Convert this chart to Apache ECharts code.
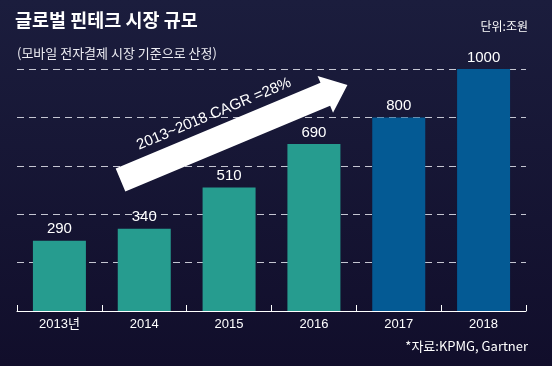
<!DOCTYPE html>
<html><head><meta charset="utf-8">
<script src="https://cdn.jsdelivr.net/npm/echarts@6/dist/echarts.min.js"></script>
<style>html,body{margin:0;padding:0;background:#15143a;}#c{width:552px;height:366px;}</style>
</head><body><div id="c"></div>
<script>
const categories = ['2013년','2014','2015','2016','2017','2018'];
const values = [290, 340, 510, 690, 800, 1000];
const barColors = ['#269c8f','#269c8f','#269c8f','#269c8f','#045a94','#045a94'];
const yTicks = [0, 200, 400, 600, 800, 1000];

const KR = '"Noto Sans CJK KR", sans-serif';
const NUM = '"Liberation Sans", "Noto Sans CJK KR", sans-serif';

// decorative arrow
const tail = [120.5, 180], ang = 22.7 * Math.PI / 180, L = 246, bw = 12.5, hw = 20, hl = 24;
const ux = Math.cos(ang), uy = -Math.sin(ang), px = Math.sin(ang), py = Math.cos(ang);
function P(d, w) { return [tail[0] + ux * d + px * w, tail[1] + uy * d + py * w]; }
const arrowPts = [P(0, -bw), P(L - hl, -bw), P(L - hl, -hw), P(L, 0), P(L - hl, hw), P(L - hl, bw), P(0, bw)];

const chart = echarts.init(document.getElementById('c'));
chart.setOption({
  backgroundColor: {type:'linear', x:0, y:0, x2:0, y2:1, colorStops:[{offset:0,color:'#1b1d3d'},{offset:1,color:'#110e2b'}]},
  animation: false,
  grid: {left: 17, right: 26, top: 69, bottom: 55},
  xAxis: {
    type: 'category', data: categories,
    axisLine: {lineStyle: {color: '#ffffff', width: 1}},
    axisTick: {show: true, inside: true, length: 6, lineStyle: {color: '#ffffff'}},
    axisLabel: {color: '#ffffff', fontSize: 13, fontFamily: NUM, margin: 7}
  },
  yAxis: {
    type: 'value', min: yTicks[0], max: yTicks[yTicks.length-1], interval: yTicks[1]-yTicks[0],
    axisLabel: {show: false}, axisLine: {show: false}, axisTick: {show: false},
    splitLine: {lineStyle: {color: '#c5c6d2', type: [7, 5], width: 1}}
  },
  series: [{
    type: 'bar', barWidth: 53,
    data: values.map((v, i) => ({value: v, itemStyle: {color: barColors[i]}})),
    label: {show: true, position: 'top', distance: 4, color: '#ffffff', fontSize: 15, fontFamily: NUM}
  }],
  graphic: [
    {type: 'text', left: 15, top: 11, style: {text: '글로벌 핀테크 시장 규모', fill: '#ffffff', font: 'bold 18.5px ' + KR}},
    {type: 'text', left: 17, top: 47, style: {text: '(모바일 전자결제 시장 기준으로 산정)', fill: '#ececf2', font: '13px ' + KR}},
    {type: 'text', right: 24, top: 20, style: {text: '단위:조원', fill: '#ffffff', font: '12px ' + KR}},
    {type: 'text', right: 24, top: 340, style: {text: '*자료:KPMG, Gartner', fill: '#ffffff', font: '13px ' + KR}},
    {type: 'polygon', shape: {points: arrowPts}, style: {fill: '#ffffff'}, z: 10},
    {type: 'text', x: 214, y: 114, rotation: ang, z: 11,
     style: {text: '2013~2018 CAGR =28%', fill: '#ffffff', font: '15px ' + NUM, align: 'center', verticalAlign: 'middle'}}
  ]
});
</script></body></html>
